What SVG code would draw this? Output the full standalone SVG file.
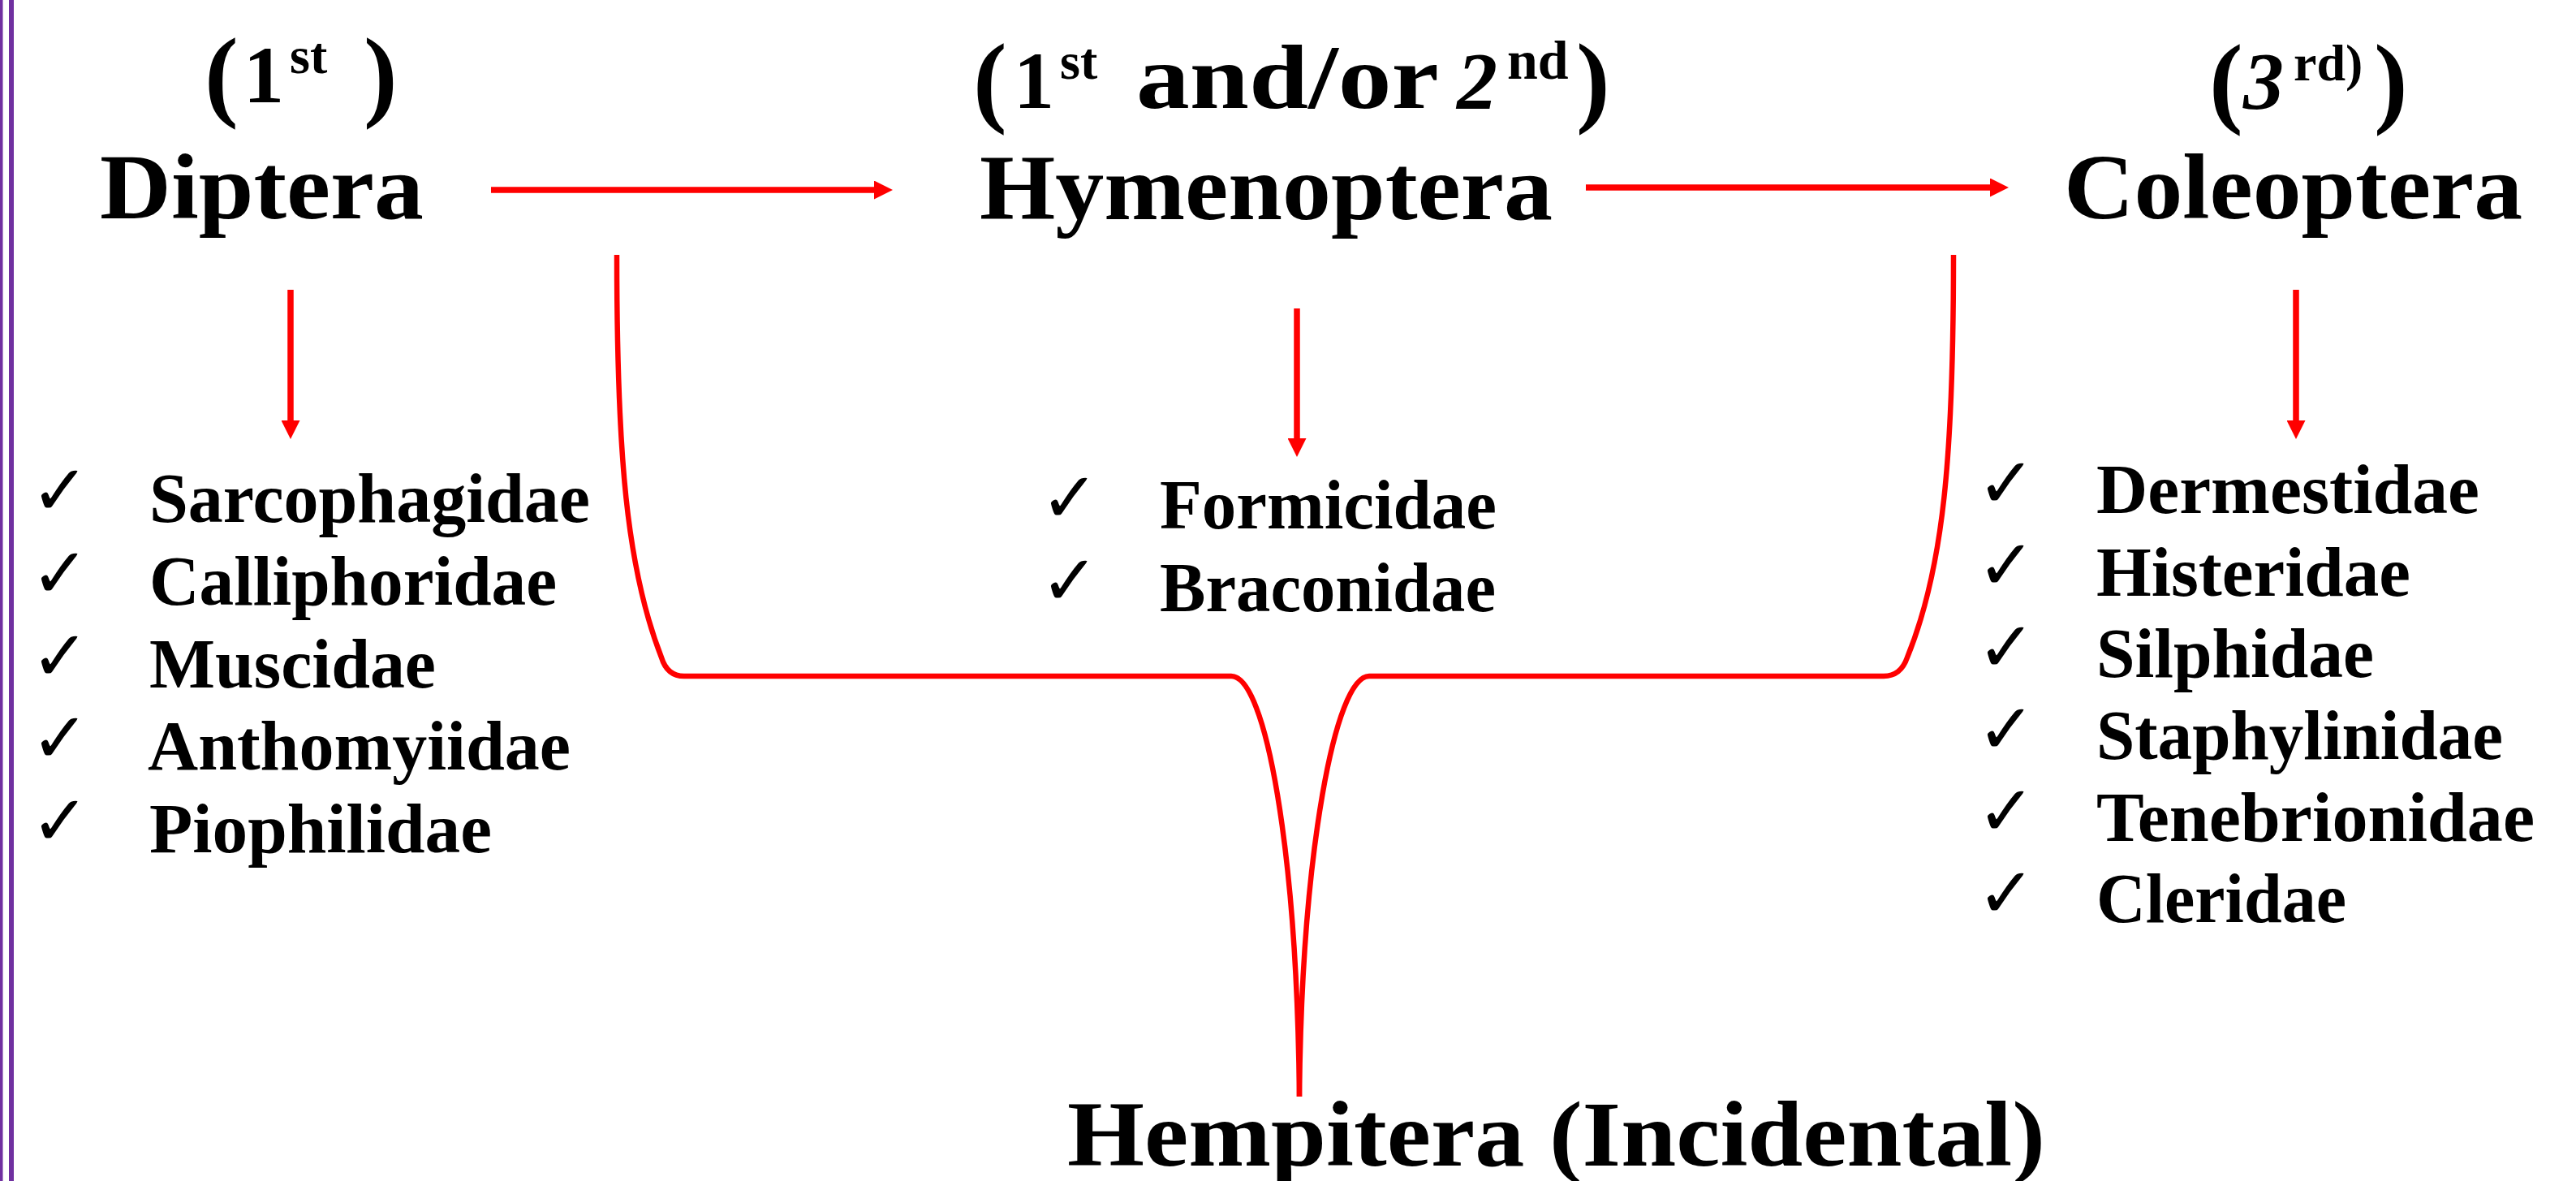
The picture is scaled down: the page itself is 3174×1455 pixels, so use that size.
<svg xmlns="http://www.w3.org/2000/svg" width="3174" height="1455" viewBox="0 0 3174 1455">
<style>
  .t { font-family: "Liberation Serif", "Times New Roman", serif; font-weight: bold; fill: #000; }
  .title { font-size: 115px; }
  .item { font-size: 86px; }
  .chk { font-family: "DejaVu Sans", sans-serif; font-weight: bold; font-size: 86px; fill: #000; }
  .conn { stroke: #FF0000; fill: none; }
  .arrow { stroke-width: 7.5; marker-end: url(#ah); }
  .bracket { stroke-width: 6.5; stroke-linejoin: round; }
</style>
<defs>
  <marker id="ah" viewBox="0 0 10 10" refX="0" refY="5" markerWidth="23" markerHeight="23" markerUnits="userSpaceOnUse" orient="auto">
    <path d="M0,0 L10,5 L0,10 z" fill="#FF0000"/>
  </marker>
</defs>
<rect width="3174" height="1455" fill="#FFFFFF"/>
<g id="border">
  <rect x="0" y="0" width="3.5" height="1455" fill="#7030A0"/>
  <rect x="11" y="0" width="6" height="1455" fill="#7030A0"/>
</g>

<g id="connectors">
  <line class="conn arrow" x1="605" y1="234" x2="1077" y2="234"/>
  <line class="conn arrow" x1="1954" y1="231" x2="2452" y2="231"/>
  <line class="conn arrow" x1="358" y1="357" x2="358" y2="518"/>
  <line class="conn arrow" x1="1598" y1="380" x2="1598" y2="540"/>
  <line class="conn arrow" x1="2829" y1="357" x2="2829" y2="518"/>
  <path class="conn bracket" d="M 760 314 C 760 560, 772 700, 815 810 Q 822 833 843 833 L 1517 833 C 1560 833, 1598 1050, 1601 1351"/>
  <path class="conn bracket" d="M 2407 314 C 2407 560, 2395 700, 2350 810 Q 2342 833 2321 833 L 1687 833 C 1645 833, 1604 1050, 1601 1351"/>
</g>

<g id="diptera">
  <text class="t" x="252" y="133" font-size="125">(</text>
  <text class="t" x="300" y="126" font-size="100">1</text>
  <text class="t" x="357" y="90" font-size="64">st</text>
  <text class="t" x="448" y="133" font-size="125">)</text>
  <text class="t title" x="123" y="269" textLength="399" lengthAdjust="spacingAndGlyphs">Diptera</text>
</g>

<g id="hymenoptera">
  <text class="t" x="1199" y="140" font-size="125">(</text>
  <text class="t" x="1249" y="133" font-size="100">1</text>
  <text class="t" x="1306" y="97" font-size="64">st</text>
  <text class="t" x="1400" y="133" font-size="112" textLength="373" lengthAdjust="spacingAndGlyphs">and/or</text>
  <text class="t" x="1795" y="133" font-size="100" font-style="italic">2</text>
  <text class="t" x="1857" y="97" font-size="68">nd</text>
  <text class="t" x="1942" y="140" font-size="125">)</text>
  <text class="t title" x="1207" y="270" textLength="706" lengthAdjust="spacingAndGlyphs">Hymenoptera</text>
</g>

<g id="coleoptera">
  <text class="t" x="2722" y="141" font-size="125">(</text>
  <text class="t" x="2764" y="133" font-size="100" font-style="italic">3</text>
  <text class="t" x="2826" y="99" font-size="64">rd)</text>
  <text class="t" x="2925" y="141" font-size="125">)</text>
  <text class="t title" x="2543" y="269" textLength="565" lengthAdjust="spacingAndGlyphs">Coleoptera</text>
</g>

<g id="diptera-families">
  <text class="chk" x="38" y="634">✓</text>
  <text class="chk" x="38" y="736">✓</text>
  <text class="chk" x="38" y="838">✓</text>
  <text class="chk" x="38" y="939">✓</text>
  <text class="chk" x="38" y="1041">✓</text>
  <text class="t item" x="184" y="643" textLength="543" lengthAdjust="spacingAndGlyphs">Sarcophagidae</text>
  <text class="t item" x="184" y="745" textLength="502" lengthAdjust="spacingAndGlyphs">Calliphoridae</text>
  <text class="t item" x="184" y="847" textLength="353" lengthAdjust="spacingAndGlyphs">Muscidae</text>
  <text class="t item" x="182" y="948" textLength="521" lengthAdjust="spacingAndGlyphs">Anthomyiidae</text>
  <text class="t item" x="184" y="1050" textLength="422" lengthAdjust="spacingAndGlyphs">Piophilidae</text>
</g>

<g id="hymenoptera-families">
  <text class="chk" x="1282" y="643">✓</text>
  <text class="chk" x="1282" y="745">✓</text>
  <text class="t item" x="1429" y="651" textLength="415" lengthAdjust="spacingAndGlyphs">Formicidae</text>
  <text class="t item" x="1429" y="753" textLength="414" lengthAdjust="spacingAndGlyphs">Braconidae</text>
</g>

<g id="coleoptera-families">
  <text class="chk" x="2436" y="625">✓</text>
  <text class="chk" x="2436" y="726">✓</text>
  <text class="chk" x="2436" y="827">✓</text>
  <text class="chk" x="2436" y="928">✓</text>
  <text class="chk" x="2436" y="1029">✓</text>
  <text class="chk" x="2436" y="1130">✓</text>
  <text class="t item" x="2583" y="632" textLength="472" lengthAdjust="spacingAndGlyphs">Dermestidae</text>
  <text class="t item" x="2583" y="734" textLength="387" lengthAdjust="spacingAndGlyphs">Histeridae</text>
  <text class="t item" x="2583" y="834" textLength="342" lengthAdjust="spacingAndGlyphs">Silphidae</text>
  <text class="t item" x="2583" y="935" textLength="501" lengthAdjust="spacingAndGlyphs">Staphylinidae</text>
  <text class="t item" x="2583" y="1036" textLength="540" lengthAdjust="spacingAndGlyphs">Tenebrionidae</text>
  <text class="t item" x="2583" y="1136" textLength="308" lengthAdjust="spacingAndGlyphs">Cleridae</text>
</g>

<g id="hempitera">
  <text class="t title" x="1315" y="1436" textLength="1205" lengthAdjust="spacingAndGlyphs">Hempitera (Incidental)</text>
</g>
</svg>
